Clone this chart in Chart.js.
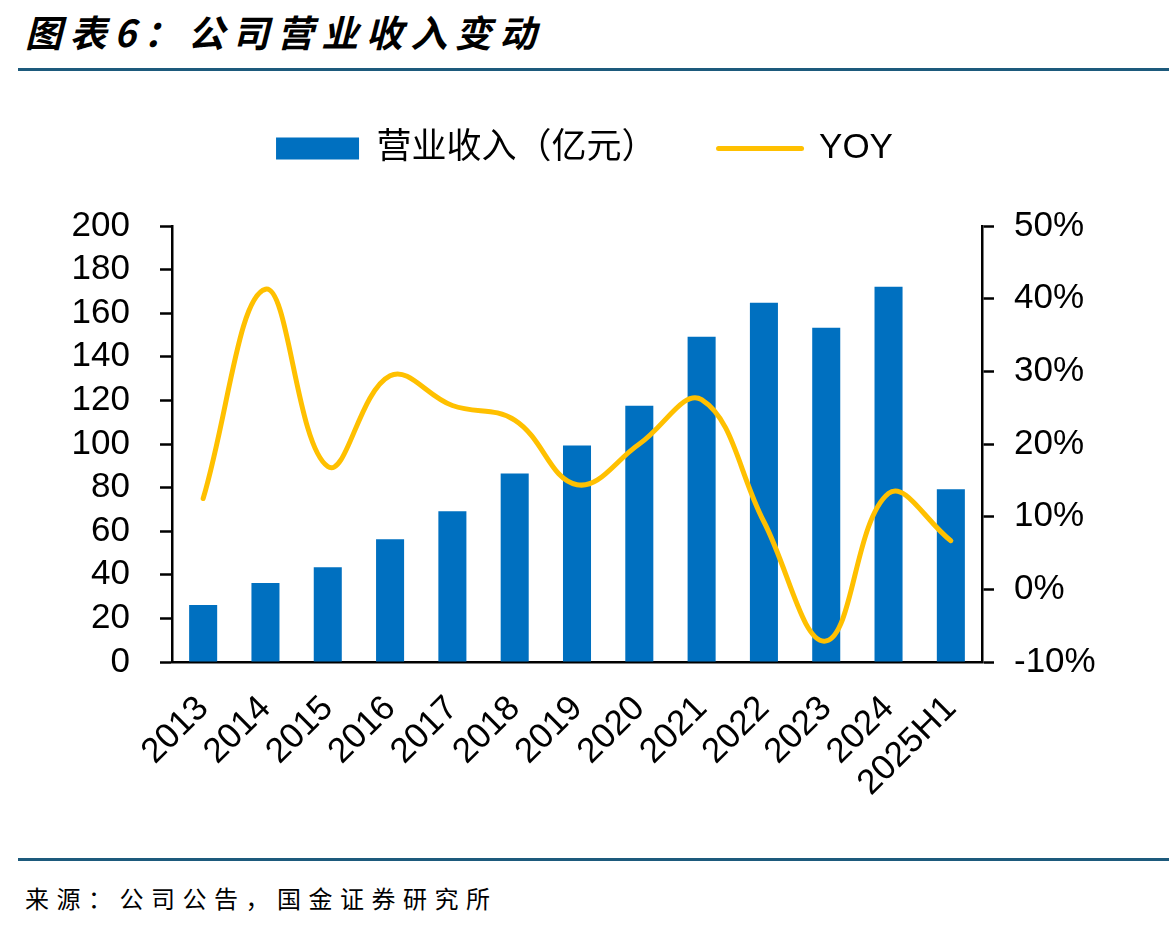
<!DOCTYPE html>
<html>
<head>
<meta charset="utf-8">
<script src="https://cdn.jsdelivr.net/npm/chart.js@4.4.0/dist/chart.umd.min.js"></script>
<style>
  html, body { margin: 0; padding: 0; background: #fff; }
  body { width: 1169px; height: 928px; position: relative; overflow: hidden; }
  .title {
    position: absolute; left: 25px; top: 4px;
    font-family: "Noto Sans CJK SC", sans-serif; font-weight: bold; font-style: italic;
    font-size: 37px; letter-spacing: 7.5px; color: #000; white-space: nowrap;
  }
  .rule { position: absolute; left: 18px; right: 0; height: 3px; background: #1d5a7c; }
  .source {
    position: absolute; left: 25px; top: 880px;
    font-family: "Noto Sans CJK SC", serif; font-size: 24px; letter-spacing: 7.5px; color: #000;
  }
  #wrap { position: absolute; left: 0; top: 64px; width: 1169px; height: 776px; }
</style>
</head>
<body>
<div class="title">图表6：公司营业收入变动</div>
<div class="rule" style="top:68px"></div>
<div id="wrap"><canvas id="chart"></canvas></div>
<div class="rule" style="top:858px"></div>
<div class="source">来源：公司公告，国金证券研究所</div>

<script>
// ============================================
// DATA
// ============================================
const years = ['2013', '2014', '2015', '2016', '2017', '2018', '2019',
               '2020', '2021', '2022', '2023', '2024', '2025H1'];
const revenue = [26.1, 36.2, 43.5, 56.3, 69.1, 86.5, 99.3, 117.6, 149.2, 164.8, 153.3, 172.1, 79.2];
const yoy = [12.5, 41.3, 16.9, 29.4, 25.3, 23.3, 14.4, 20.0, 26.1, 9.3, -7.1, 13.2, 6.7];

const barColor = '#0070C0';
const lineColor = '#FFC000';
const tickFont = { family: '"Liberation Sans", Arial, sans-serif', size: 35 };

// Extra space between legend and plot area
const legendGap = {
    id: 'legendGap',
    beforeLayout(chart) {
        const legend = chart.legend;
        if (legend && !legend._gapPatched) {
            const fit = legend.fit;
            legend.fit = function() {
                fit.call(this);
                this.height += 50;
            };
            legend._gapPatched = true;
        }
    }
};

const ctx = document.getElementById('chart').getContext('2d');

new Chart(ctx, {
    data: {
        labels: years,
        datasets: [
            {
                type: 'line',
                label: 'YOY',
                data: yoy,
                yAxisID: 'y1',
                borderColor: lineColor,
                borderWidth: 5,
                borderCapStyle: 'round',
                tension: 0.4,
                pointRadius: 0,
                order: 0
            },
            {
                type: 'bar',
                label: '营业收入（亿元）',
                data: revenue,
                yAxisID: 'y',
                backgroundColor: barColor,
                categoryPercentage: 1,
                barPercentage: 0.45,
                order: 1
            }
        ]
    },
    plugins: [legendGap],
    options: {
        responsive: true,
        maintainAspectRatio: false,
        animation: false,
        layout: { padding: { top: 5 } },
        plugins: {
            tooltip: { enabled: false },
            legend: {
                position: 'top',
                labels: {
                    usePointStyle: true,
                    pointStyleWidth: 83,
                    boxHeight: 22,
                    padding: 62,
                    color: '#000',
                    font: { family: '"Liberation Sans", "Noto Sans CJK SC", sans-serif', size: 35 },
                    generateLabels: () => [
                        { text: '营业收入（亿元）', fillStyle: barColor, strokeStyle: barColor,
                          lineWidth: 0, pointStyle: 'rect', datasetIndex: 1 },
                        { text: 'YOY', fillStyle: lineColor, strokeStyle: lineColor,
                          lineWidth: 5, lineCap: 'round', pointStyle: 'line', datasetIndex: 0 }
                    ]
                }
            }
        },
        scales: {
            x: {
                grid: { display: false },
                border: { display: true, color: '#000', width: 2.5 },
                ticks: {
                    color: '#000', font: tickFont,
                    minRotation: 45, maxRotation: 45, autoSkip: false, padding: 18
                },
                afterFit: (scale) => { scale.height = 178; }
            },
            y: {
                position: 'left',
                min: 0, max: 200,
                ticks: { stepSize: 20, autoSkip: false, color: '#000', font: tickFont, padding: 30 },
                grid: { drawOnChartArea: false, tickLength: 12, tickColor: '#000', tickWidth: 2.5 },
                border: { color: '#000', width: 2.5 },
                afterFit: (scale) => { scale.width = 172; }
            },
            y1: {
                position: 'right',
                min: -10, max: 50,
                ticks: {
                    stepSize: 10, autoSkip: false, color: '#000', font: tickFont, padding: 20,
                    callback: (v) => v + '%'
                },
                grid: { drawOnChartArea: false, tickLength: 12, tickColor: '#000', tickWidth: 2.5 },
                border: { color: '#000', width: 2.5 },
                afterFit: (scale) => { scale.width = 187; }
            }
        }
    }
});
</script>
</body>
</html>
